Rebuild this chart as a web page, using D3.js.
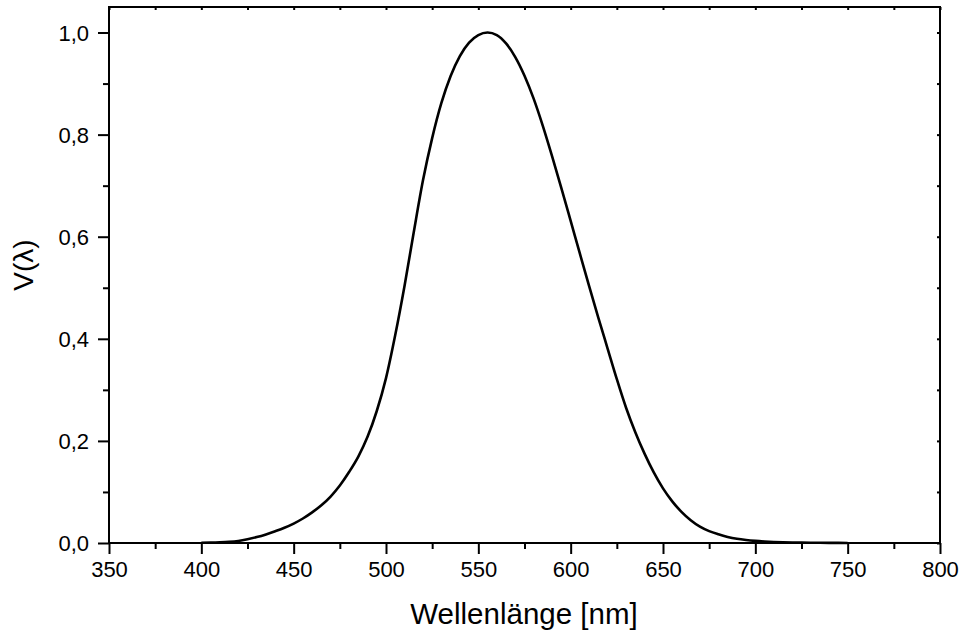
<!DOCTYPE html>
<html lang="de">
	<head>
		<meta charset="utf-8">
		<title>V(lambda)</title>
		<script src="https://d3js.org/d3.v7.min.js"></script>
		<style>
			body { margin: 0; background: #fff; }
			text { font-family: "Liberation Sans", Arial, sans-serif; fill: #000; }
		</style>
	</head>
	<body>
		<script type="text/javascript">

			// data: CIE V(lambda), 5 nm steps
			var wavelength = [400,405,410,415,420,425,430,435,440,445,450,455,460,465,470,475,480,485,490,495,
				500,505,510,515,520,525,530,535,540,545,550,555,560,565,570,575,580,585,590,595,
				600,605,610,615,620,625,630,635,640,645,650,655,660,665,670,675,680,685,690,695,
				700,705,710,715,720,725,730,735,740,745,750];
			var vLambda = [0.0004,0.00064,0.0012,0.00218,0.004,0.0073,0.0116,0.01684,0.023,0.0298,
				0.038,0.048,0.06,0.0739,0.091,0.1126,0.139,0.1693,0.208,0.2586,
				0.323,0.4073,0.503,0.6082,0.71,0.7932,0.862,0.9149,0.954,0.9803,
				0.995,1.0,0.995,0.9786,0.952,0.9154,0.87,0.8163,0.757,0.6949,
				0.631,0.5668,0.503,0.4412,0.381,0.321,0.265,0.217,0.175,0.1382,
				0.107,0.0816,0.061,0.0446,0.032,0.0232,0.017,0.01192,0.0082,0.00577,
				0.0041,0.00293,0.0021,0.00148,0.00105,0.00074,0.00052,0.00036,0.00025,0.00017,0.00012];

			var xTicks = [350,400,450,500,550,600,650,700,750,800];
			var xMinor = [375,425,475,525,575,625,675,725,775];
			var yTicks = [0,0.2,0.4,0.6,0.8,1.0];
			var yMinor = [0.1,0.3,0.5,0.7,0.9];

			var w = 960, h = 630;
			var x0 = 109, x1 = 940, y0 = 543, y1 = 7;

			var xScale = d3.scaleLinear().domain([350,800]).range([x0,x1]);
			var yScale = d3.scaleLinear().domain([0,1.05]).range([y0,y1]);

			var svg = d3.select("body").append("svg").attr("width",w).attr("height",h);

			var fmt = function(d){ return d3.format(".1f")(d).replace(".", ","); };

			// minor ticks
			svg.append("g").attr("transform",`translate(0,${y0})`)
				.call(d3.axisBottom(xScale).tickValues(xMinor).tickSize(6).tickFormat(""));
			svg.append("g").attr("transform",`translate(${x0},0)`)
				.call(d3.axisLeft(yScale).tickValues(yMinor).tickSize(6).tickFormat(""));

			// top / right small inward ticks
			svg.append("g").attr("transform",`translate(0,${y1})`)
				.call(d3.axisBottom(xScale).tickValues(xTicks.concat(xMinor)).tickSize(3).tickFormat(""));
			svg.append("g").attr("transform",`translate(${x1},0)`)
				.call(d3.axisLeft(yScale).tickValues(yTicks.concat(yMinor)).tickSize(3).tickFormat(""));

			// major axes
			var xAxis = svg.append("g").attr("class","xAxis").attr("transform",`translate(0,${y0})`)
				.call(d3.axisBottom(xScale).tickValues(xTicks).tickSize(11).tickPadding(7).tickFormat(d3.format("d")));
			var yAxis = svg.append("g").attr("class","yAxis").attr("transform",`translate(${x0},0)`)
				.call(d3.axisLeft(yScale).tickValues(yTicks).tickSize(11).tickPadding(9).tickFormat(fmt));

			svg.selectAll(".domain").remove();
			svg.selectAll(".tick line").attr("stroke","#000").attr("stroke-width",2);
			svg.selectAll(".tick text").style("font-size","22px").attr("fill","#000");
			yAxis.selectAll(".tick text").attr("dy","0.35em");

			// frame
			svg.append("rect").attr("x",x0).attr("y",y1)
				.attr("width",x1-x0).attr("height",y0-y1)
				.attr("fill","none").attr("stroke","#000").attr("stroke-width",2);

			// curve
			var pts = wavelength.map(function(d,i){ return [d, vLambda[i]]; });
			var line = d3.line()
				.x(function(d){ return xScale(d[0]); })
				.y(function(d){ return yScale(d[1]); })
				.curve(d3.curveMonotoneX);
			svg.append("path").datum(pts).attr("d",line)
				.attr("fill","none").attr("stroke","#000").attr("stroke-width",2.6)
				.attr("stroke-linejoin","round");

			// axis titles
			svg.append("text").attr("x",524).attr("y",624).attr("text-anchor","middle")
				.style("font-size","29.5px").text("Wellenlänge [nm]");
			svg.append("text").attr("transform","translate(33,265) rotate(-90)").attr("text-anchor","middle")
				.style("font-size","28px").text("V(λ)");

		</script>
	</body>
</html>
